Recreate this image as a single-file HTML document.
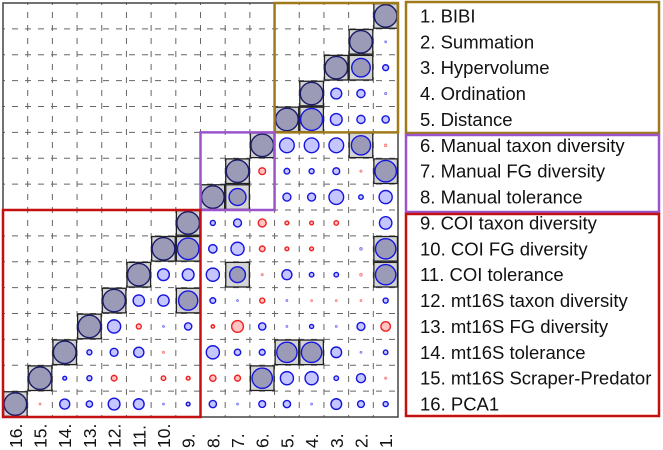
<!DOCTYPE html>
<html><head><meta charset="utf-8"><style>
html,body{margin:0;padding:0;background:#fff;}
svg{display:block;font-family:"Liberation Sans",sans-serif;}
</style></head><body>
<svg id="chart" width="663" height="450" viewBox="0 0 663 450"></svg>
<script>
const variableNumbers = ["1.","2.","3.","4.","5.","6.","7.","8.","9.","10.","11.","12.","13.","14.","15.","16."];
const legendLabels = ["BIBI","Summation","Hypervolume","Ordination","Distance","Manual taxon diversity","Manual FG diversity","Manual tolerance","COI taxon diversity","COI FG diversity","COI tolerance","mt16S taxon diversity","mt16S FG diversity","mt16S tolerance","mt16S Scraper-Predator","PCA1"];
// correlations: row i (1-based) vs columns 1..i-1
const corrRow2 = [0.05];
const corrRow3 = [0.26,0.82];
const corrRow4 = [0.1,0.36,0.48];
const corrRow5 = [0.32,0.36,0.52,0.97];
const corrRow6 = [-0.12,0.85,0.65,0.65,0.65];
const corrRow7 = [0.95,-0.1,0.3,0.22,0.25,-0.3];
const corrRow8 = [0.58,0.2,0.65,0.35,0.35,0,0.75];
const corrRow9 = [0.55,0,-0.2,-0.17,-0.17,-0.35,0.35,0.22];
const corrRow10 = [0.9,0.12,0,-0.17,-0.17,-0.25,0.58,0.37,0.95];
const corrRow11 = [0.9,-0.12,0.2,0.2,0.44,-0.1,0.7,0.58,0.52,0.52];
const corrRow12 = [0.22,-0.08,-0.03,-0.05,0.06,-0.22,0.06,0.25,0.85,0.5,0.5];
const corrRow13 = [-0.42,0.35,0.08,0.18,0.08,0.32,-0.52,-0.15,0.32,0.06,-0.22,0.58];
const corrRow14 = [0.2,0.05,0.47,0.9,0.9,0.26,0.28,0.58,0,-0.1,0.45,0.35,0.22];
const corrRow15 = [-0.1,0.4,0.2,0.58,0.58,0.9,-0.26,-0.28,-0.17,-0.2,0,-0.25,0.22,0.17];
const corrRow16 = [0.22,0.3,0.47,0.05,0.32,0.3,0.03,0.32,0.17,0.06,0.47,0.52,0.28,0.44,-0.05];
const corrRows = [[],corrRow2,corrRow3,corrRow4,corrRow5,corrRow6,corrRow7,corrRow8,corrRow9,corrRow10,corrRow11,corrRow12,corrRow13,corrRow14,corrRow15,corrRow16];

const NS="http://www.w3.org/2000/svg";
const svg=document.getElementById('chart');
const X0=3,X1=398,Y0=3,Y1=417,N=16;
const cw=(X1-X0)/N, ch=(Y1-Y0)/N;
function colX(c){return X1-(c-0.5)*cw;}
function rowY(r){return Y0+(r-0.5)*ch;}
function rad(v){return 11.3*Math.abs(v);}
function mk(tag,attrs,parent){const e=document.createElementNS(NS,tag);for(const k in attrs)e.setAttribute(k,attrs[k]);(parent||svg).appendChild(e);return e;}

const grid=mk('g',{});


for(let k=1;k<N;k++){
  const x=X0+k*cw, y=Y0+k*ch;
  mk('line',{x1:x,y1:Y0,x2:x,y2:Y1,stroke:'#666','stroke-width':1,'stroke-dasharray':'6,7','stroke-dashoffset':-9},grid);
  mk('line',{x1:X0,y1:y,x2:X1,y2:y,stroke:'#666','stroke-width':1,'stroke-dasharray':'6,7','stroke-dashoffset':-9},grid);
}
const border=mk('rect',{x:X0,y:Y0,width:X1-X0,height:Y1-Y0,fill:'none',stroke:'#444','stroke-width':1.5});



function drawCell(r,c,v,diag){
  const cx=colX(c), cy=rowY(r);
  const strong=diag||Math.abs(v)>=0.7;
  if(strong){
    const b=mk('rect',{x:cx-11.8,y:cy-12.3,width:23.6,height:24.6,fill:'#d4d4d4',stroke:'#222','stroke-width':1.3});
    
    
  }
  if(Math.abs(v)<0.01)return;
  const pos=v>0;
  const circ=mk('circle',{cx:cx,cy:cy,r:Math.max(rad(v),1),
    fill: strong?'#9b9bb8':(pos?'rgba(110,110,255,0.4)':'rgba(255,110,110,0.4)'),
    stroke: diag?'#1a1a6a':(pos?'#1515dd':'#ee2222'),
    'stroke-width': Math.abs(v)<0.15?0.8:1.4,
    'stroke-opacity': Math.abs(v)<0.15?0.5:1});
  
  
}
for(let r=1;r<=N;r++){
  drawCell(r,r,1,true);
  const row=corrRows[r-1];
  for(let c=1;c<r;c++) drawCell(r,c,row[c-1],false);
}

function groupBox(c1,c2,r1,r2,color,name){
  const x=X1-c2*cw, w=(c2-c1+1)*cw, y=Y0+(r1-1)*ch, h=(r2-r1+1)*ch;
  const b=mk('rect',{x:x,y:y,width:w,height:h,fill:'none',stroke:color,'stroke-width':2.5});
  
  
}
groupBox(1,5,1,5,'#a07a1a','index-group-box');
groupBox(6,8,6,8,'#9a55cc','manual-group-box');
groupBox(9,16,9,16,'#c41010','molecular-group-box');

for(let c=1;c<=N;c++){
  const x=colX(c)+6.5, y=448;
  const t=mk('text',{x:x,y:y,transform:`rotate(-90 ${x} ${y})`,'font-size':17.5,fill:'#111'});
  t.textContent=variableNumbers[c-1];
  
  
}

function legBox(y1,y2,color,name){
  const b=mk('rect',{x:406,y:y1,width:253,height:y2-y1,fill:'#fff',stroke:color,'stroke-width':2.5});
  
  
}
legBox(2,133,'#a07a1a','legend-index-box');
legBox(135,212,'#9a55cc','legend-manual-box');
legBox(214,416,'#c41010','legend-molecular-box');
for(let i=0;i<N;i++){
  const t=mk('text',{x:420,y:rowY(i+1)+6.5,'font-size':18.5,fill:'#111'});
  t.textContent=variableNumbers[i]+' '+legendLabels[i];
  
  
}
</script>
</body></html>
